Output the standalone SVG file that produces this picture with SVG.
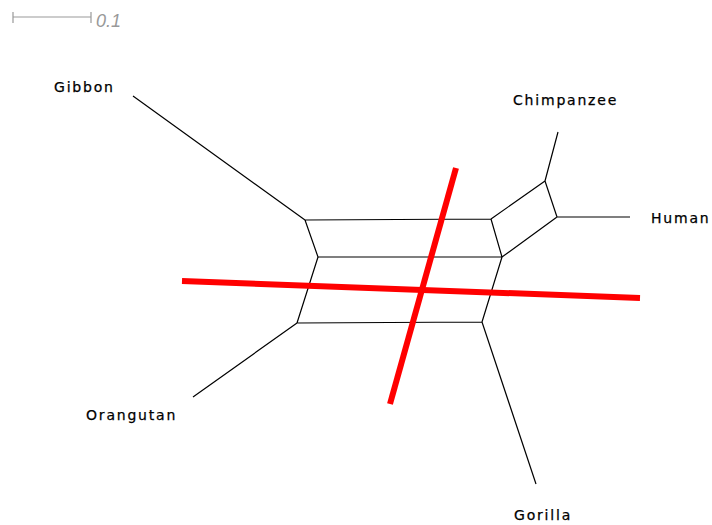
<svg xmlns="http://www.w3.org/2000/svg" width="712" height="525" viewBox="0 0 712 525">
<style>
.e{stroke:#000;stroke-width:1.2;fill:none}
.s{stroke:#ff0000;stroke-width:6;stroke-linecap:butt}
.l{font-family:"DejaVu Sans",sans-serif;font-size:14px;letter-spacing:1.8px;fill:#000;stroke:#000;stroke-width:0.25}
.sb{stroke:#999;stroke-width:1.2;fill:none}
</style>
<rect width="712" height="525" fill="#fff"/>
<g id="scale">
<path class="sb" d="M13,17H91M13,12V23M91,12V23"/>
<text x="96" y="27" font-family="Liberation Sans, sans-serif" font-size="18" font-style="italic" fill="#999">0.1</text>
</g>
<g id="edges">
<path class="e" d="M133,96L305,220M305,220L491,219M305,220L318,257M491,219L502,257M318,257L502,257M318,257L297,323M502,257L482,322M297,323L482,322M297,323L193,397M482,322L536,484M491,219L545,181M545,181L557,217M502,257L557,217M545,181L558,132M557,217L630,217"/>
</g>
<g id="splits">
<line class="s" x1="182" y1="281" x2="640" y2="298"/>
<line class="s" x1="456" y1="168" x2="390" y2="404"/>
</g>
<g id="Gibbon"><text class="l" x="54" y="92">Gibbon</text></g>
<g id="Chimpanzee"><text class="l" x="513" y="105">Chimpanzee</text></g>
<g id="Human"><text class="l" x="651" y="223">Human</text></g>
<g id="Orangutan"><text class="l" x="86" y="420">Orangutan</text></g>
<g id="Gorilla"><text class="l" x="514" y="520">Gorilla</text></g>
</svg>
